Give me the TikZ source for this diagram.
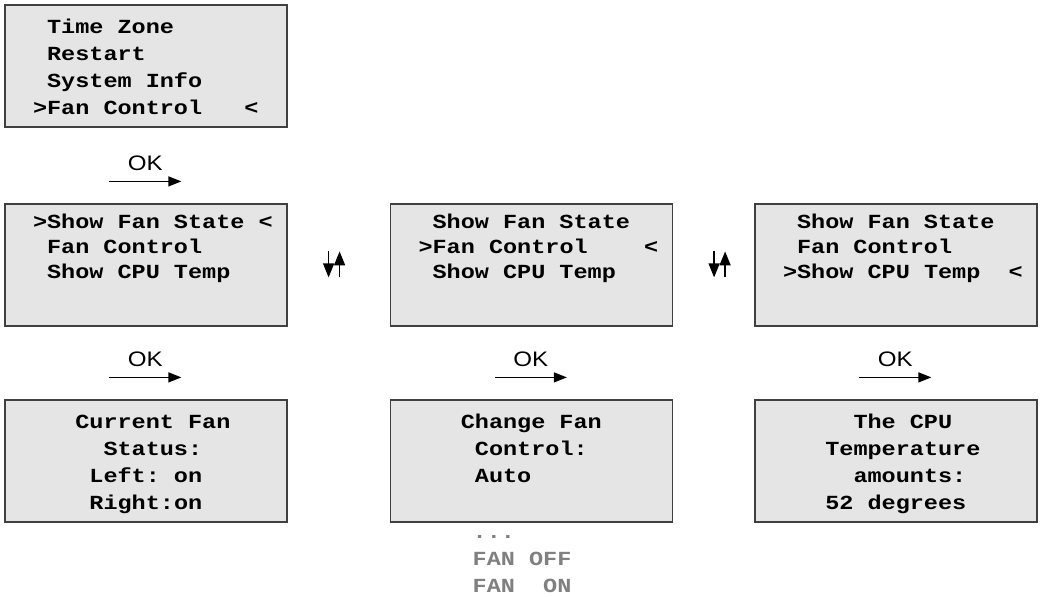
\documentclass[tikz,border=0pt]{standalone}
\usepackage{fontspec}
\newfontfamily\lcdmono{Liberation Mono}[FakeStretch=1.175]
\newfontfamily\keysans{Liberation Sans}[FakeStretch=1.15]
\usetikzlibrary{arrows.meta, positioning}
\definecolor{lcdfill}{gray}{0.9}
\definecolor{lcdedge}{gray}{0.25}
\definecolor{optgray}{gray}{0.5}

\begin{document}
\begin{tikzpicture}[
    x=0.5pt, y=-0.5pt,
    screen/.style={draw=lcdedge, line width=0.6pt, fill=lcdfill,
                   minimum width=141pt, minimum height=61pt,
                   inner xsep=7pt, inner ysep=0pt, text width=127pt, align=left,
                   font={\lcdmono\bfseries\fontsize{10}{13.5}\selectfont},
                   execute at begin node={\leftskip7pt\spaceskip7.05pt\xspaceskip7.05pt\rule{0pt}{11.6pt}},
                   execute at end node={\strut}},
    menu/.style={screen, font={\lcdmono\bfseries\fontsize{10}{12.5}\selectfont}},
    options/.style={anchor=north west, inner sep=0pt, text width=60pt,
                    align=left, text=optgray,
                    font={\lcdmono\bfseries\fontsize{10}{13.5}\selectfont},
                    execute at begin node={\spaceskip7.05pt\xspaceskip7.05pt\rule{0pt}{11.6pt}},
                    execute at end node={\strut}},
    key/.style={->, line width=0.6pt},
    keylabel/.style={font={\keysans\fontsize{10.5}{12}\selectfont},
                     inner sep=0pt, above=5pt},
    updown/.style={-{Triangle[length=7pt, width=5.5pt]}, line width=0.7pt},
    >={Triangle[length=6.5pt, width=5pt]}
  ]
  \useasboundingbox (0,0) rectangle (1040,596);

  % Main menu
  \node[screen] (mainmenu) at (146,66)
    {~Time Zone\\~Restart\\~System Info\\>Fan Control~~~<};

  % Fan control submenu
  \node[menu] (fanstate) at (146,265)
    {>Show Fan State~<\\~Fan Control\\~Show CPU Temp\\[7pt]~};
  \node[menu] (fanctrl) at (531.5,265)
    {~Show Fan State\\>Fan Control~~~~<\\~Show CPU Temp\\[7pt]~};
  \node[menu] (cputemp) at (896,265)
    {~Show Fan State\\~Fan Control\\>Show CPU Temp~~<\\[7pt]~};

  % Result screens
  \node[screen] (stateinfo) at (146,461)
    {~~~Current Fan\\~~~~~Status:\\~~~~Left: on\\~~~~Right:on};
  \node[screen] (ctrlinfo) at (531.5,461)
    {~~~Change Fan\\~~~~Control:\\~~~~Auto\\~};
  \node[screen] (tempinfo) at (896,461)
    {~~~~~The CPU\\~~~Temperature\\~~~~~amounts:\\~~~52 degrees};

  % Selectable values
  \node[options] (fanopts) at ([shift={(82.4,-8)}]ctrlinfo.south west)
    {...\\FAN~OFF\\FAN~~ON};

  % OK keys
  \foreach \scr [count=\i] in {fanstate, stateinfo, ctrlinfo, tempinfo} {
    \coordinate (ok\i a) at ([shift={(105,-22)}]\scr.north west);
    \coordinate (ok\i b) at ([shift={(177,-22)}]\scr.north west);
    \draw[key] (ok\i a) -- node[keylabel] {OK} (ok\i b);
  }

  % Up/down keys
  \foreach \scr [count=\i] in {fanstate, fanctrl} {
    \coordinate (dn\i a) at ([shift={(41,48)}]\scr.north east);
    \coordinate (dn\i b) at ([shift={(41,74)}]\scr.north east);
    \coordinate (up\i a) at ([shift={(52,74)}]\scr.north east);
    \coordinate (up\i b) at ([shift={(52,48)}]\scr.north east);
    \draw[updown] (dn\i a) -- (dn\i b);
    \draw[updown] (up\i a) -- (up\i b);
  }
\end{tikzpicture}
\end{document}
